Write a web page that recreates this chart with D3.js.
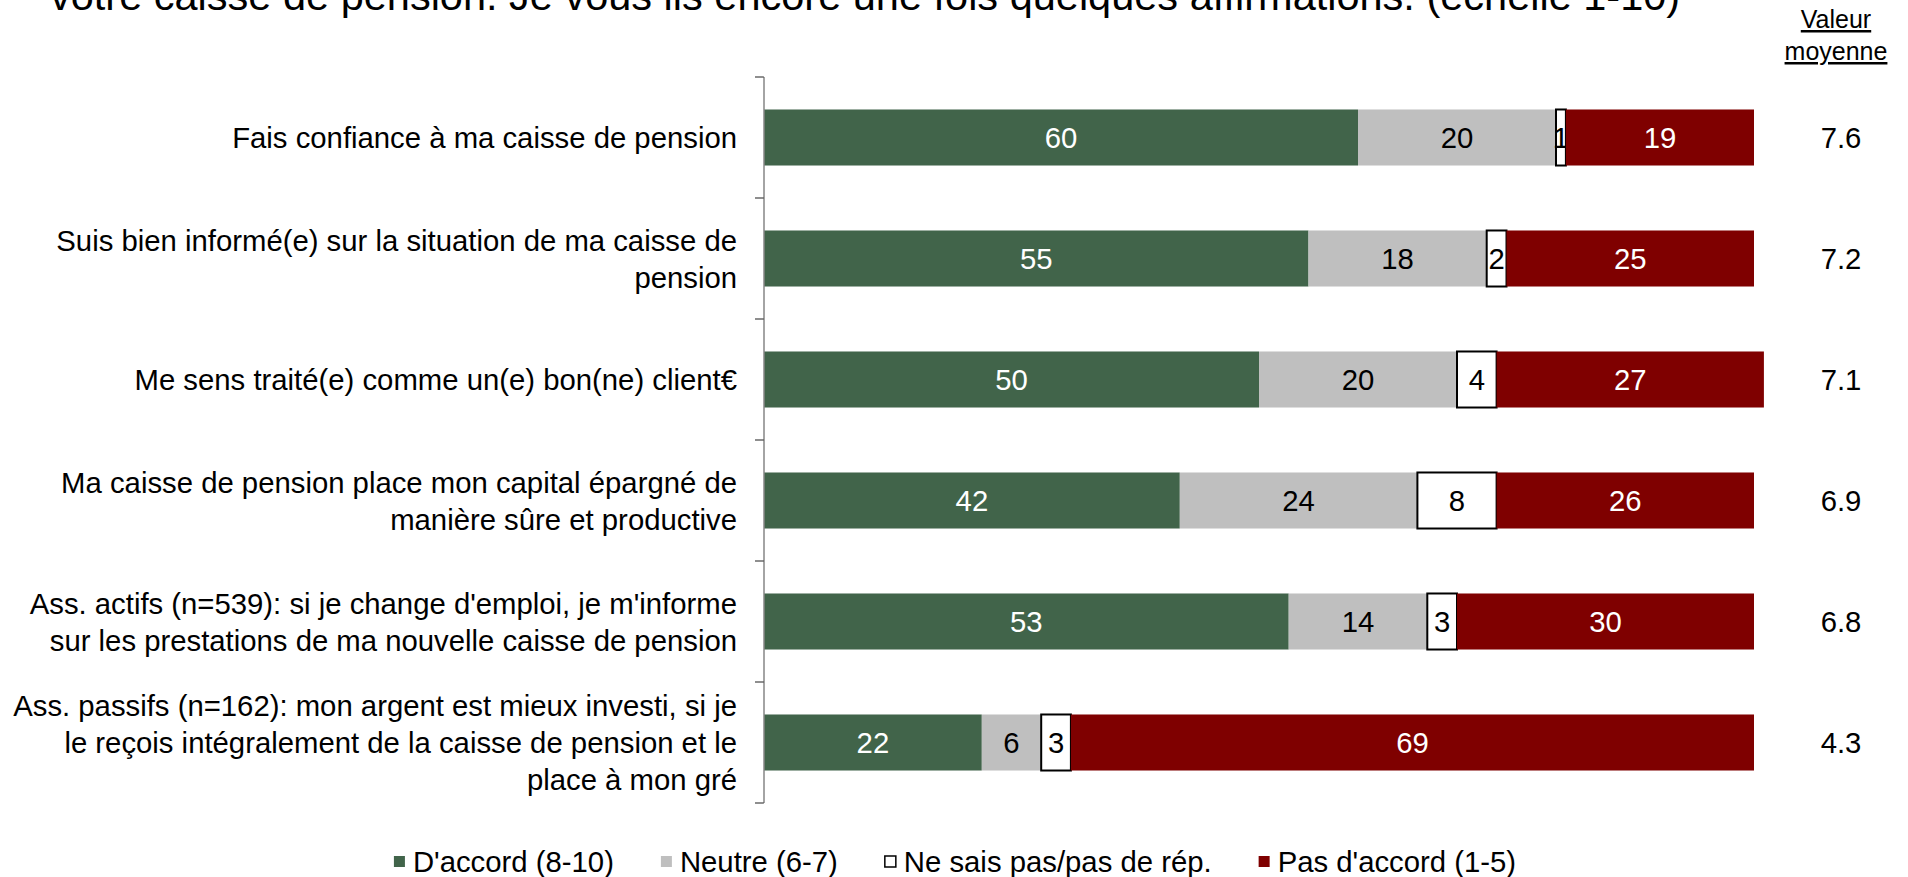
<!DOCTYPE html>
<html>
<head>
<meta charset="utf-8">
<script src="https://cdn.jsdelivr.net/npm/d3@7"></script>
<style>
  body { margin: 0; background: #fff; }
  svg { display: block; font-family: "Liberation Sans", Arial, sans-serif; }
</style>
</head>
<body>
<div id="chart"></div>
<script>
// Data
var categories = [
  ["Fais confiance à ma caisse de pension"],
  ["Suis bien informé(e) sur la situation de ma caisse de", "pension"],
  ["Me sens traité(e) comme un(e) bon(ne) client€"],
  ["Ma caisse de pension place mon capital épargné de", "manière sûre et productive"],
  ["Ass. actifs (n=539): si je change d'emploi, je m'informe", "sur les prestations de ma nouvelle caisse de pension"],
  ["Ass. passifs (n=162): mon argent est mieux investi, si je", "le reçois intégralement de la caisse de pension et le", "place à mon gré"]
];
var seriesNames = ["D'accord (8-10)", "Neutre (6-7)", "Ne sais pas/pas de rép.", "Pas d'accord (1-5)"];
var accord = [60, 55, 50, 42, 53, 22];
var neutre = [20, 18, 20, 24, 14, 6];
var nsp = [1, 2, 4, 8, 3, 3];
var pasAccord = [19, 25, 27, 26, 30, 69];
var moyenne = [7.6, 7.2, 7.1, 6.9, 6.8, 4.3];

var colors = ["#41644a", "#bfbfbf", "#ffffff", "#7f0000"];
var labelColors = ["#fff", "#000", "#000", "#fff"];

var svgWidth = 1908;
var svgHeight = 877;
var fontSize = 29.3;

var svg = d3.select("#chart")
  .append("svg")
  .attr("width", svgWidth)
  .attr("height", svgHeight);

// build rows for the stack
var rows = categories.map(function(c, i) {
  return { idx: i, s0: accord[i], s1: neutre[i], s2: nsp[i], s3: pasAccord[i] };
});
var stack = d3.stack().keys(["s0", "s1", "s2", "s3"]);
var stacked = stack(rows);

var xScale = d3.scaleLinear()
  .domain([0, 100])
  .range([764, 1754]);

var yScale = d3.scaleBand()
  .domain(d3.range(categories.length))
  .range([77, 803])
  .paddingInner(0.537)
  .paddingOuter(0.2685);

// Title (only its last line is inside the frame)
svg.append("text")
  .attr("x", 50)
  .attr("y", 10)
  .attr("font-size", 41.5)
  .attr("fill", "#000")
  .text("votre caisse de pension. Je vous lis encore une fois quelques affirmations. (échelle 1-10)");

// bars
var layers = svg.selectAll("g.layer")
  .data(stacked)
  .enter()
  .append("g")
  .attr("class", "layer");

layers.selectAll("rect")
  .data(function(d, k) { return d.map(function(p) { p.k = k; return p; }); })
  .enter()
  .append("rect")
  .attr("x", d => xScale(d[0]))
  .attr("y", d => yScale(d.data.idx))
  .attr("width", d => xScale(d[1]) - xScale(d[0]))
  .attr("height", yScale.bandwidth())
  .attr("fill", d => colors[d.k])
  .attr("stroke", d => d.k === 2 ? "#000" : "none")
  .attr("stroke-width", 2);

layers.selectAll("text")
  .data(function(d, k) { return d.map(function(p) { p.k = k; return p; }); })
  .enter()
  .append("text")
  .attr("x", d => (xScale(d[0]) + xScale(d[1])) / 2)
  .attr("y", d => yScale(d.data.idx) + yScale.bandwidth() / 2)
  .attr("dy", "0.36em")
  .attr("text-anchor", "middle")
  .attr("font-size", fontSize)
  .attr("fill", d => labelColors[d.k])
  .text(d => d[1] - d[0]);

// axis line + ticks between categories
var step = yScale.step();
var off = (step - yScale.bandwidth()) / 2;
var tickYs = d3.range(categories.length + 1).map(function(i) {
  return i < categories.length ? yScale(i) - off : yScale(i - 1) + yScale.bandwidth() + off;
});
var axis = svg.append("g");
axis.append("line")
  .attr("x1", xScale(0)).attr("x2", xScale(0))
  .attr("y1", tickYs[0]).attr("y2", tickYs[tickYs.length - 1])
  .attr("stroke", "#868686")
  .attr("stroke-width", 1.5);
axis.selectAll("line.tick")
  .data(tickYs)
  .enter()
  .append("line")
  .attr("class", "tick")
  .attr("x1", xScale(0) - 9).attr("x2", xScale(0))
  .attr("y1", d => d).attr("y2", d => d)
  .attr("stroke", "#444")
  .attr("stroke-width", 1.2);

// category labels
var lineH = 37;
svg.selectAll("text.cat")
  .data(categories)
  .enter()
  .append("text")
  .attr("class", "cat")
  .attr("text-anchor", "end")
  .attr("font-size", fontSize)
  .attr("fill", "#000")
  .each(function(lines, i) {
    var cy = yScale(i) + yScale.bandwidth() / 2;
    var y0 = cy - (lines.length - 1) * lineH / 2 + fontSize * 0.36;
    var t = d3.select(this);
    lines.forEach(function(l, j) {
      t.append("tspan")
        .attr("x", 737)
        .attr("y", y0 + j * lineH)
        .text(l);
    });
  });

// mean values column
svg.append("text")
  .attr("x", 1836)
  .attr("y", 28)
  .attr("text-anchor", "middle")
  .attr("font-size", 25)
  .attr("text-decoration", "underline")
  .text("Valeur");
svg.append("text")
  .attr("x", 1836)
  .attr("y", 60)
  .attr("text-anchor", "middle")
  .attr("font-size", 25)
  .attr("text-decoration", "underline")
  .text("moyenne");

svg.selectAll("text.mean")
  .data(moyenne)
  .enter()
  .append("text")
  .attr("class", "mean")
  .attr("x", 1841)
  .attr("y", (d, i) => yScale(i) + yScale.bandwidth() / 2)
  .attr("dy", "0.36em")
  .attr("text-anchor", "middle")
  .attr("font-size", fontSize)
  .text(d => d.toFixed(1));

// legend
var legend = svg.append("g");
var items = legend.selectAll("g")
  .data(seriesNames)
  .enter()
  .append("g");
items.append("rect")
  .attr("width", 11).attr("height", 11)
  .attr("y", 856)
  .attr("fill", (d, i) => colors[i])
  .attr("stroke", (d, i) => i === 2 ? "#000" : "none")
  .attr("stroke-width", 1.5);
items.append("text")
  .attr("x", 19)
  .attr("y", 872)
  .attr("font-size", fontSize)
  .text(d => d);

var gap = 47;
var widths = [];
items.each(function() { widths.push(this.getBBox().width); });
var total = d3.sum(widths) + gap * (widths.length - 1);
var lx = 955 - total / 2;
items.attr("transform", function(d, i) {
  var x = lx;
  lx += widths[i] + gap;
  return "translate(" + x + ",0)";
});
</script>
</body>
</html>
